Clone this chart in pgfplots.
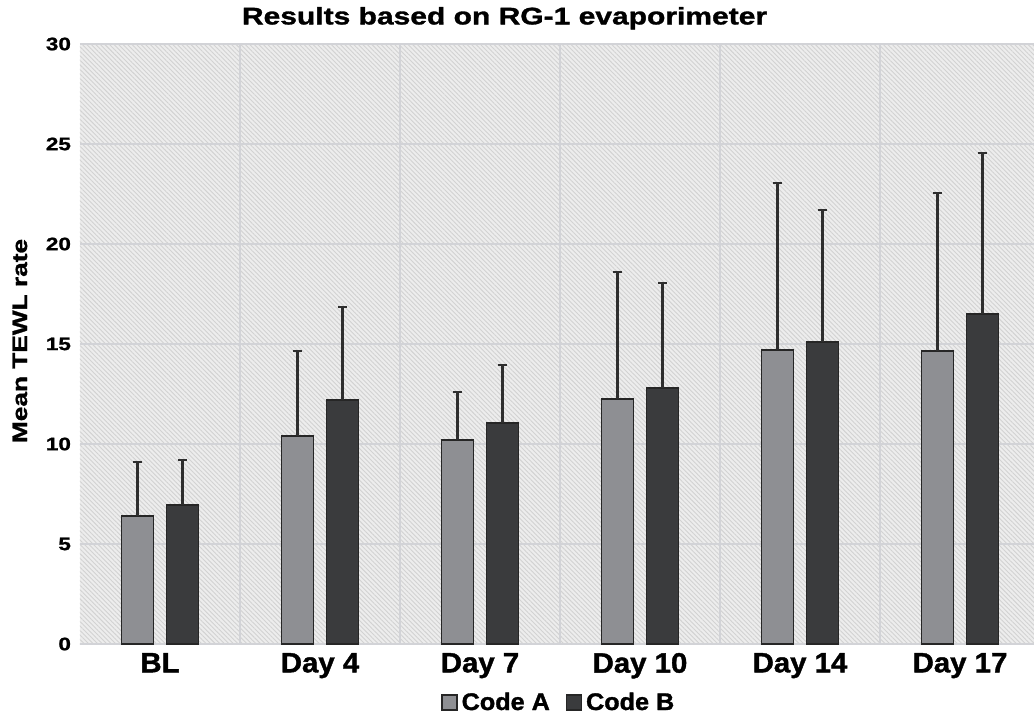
\documentclass[border=0pt]{standalone}
\usepackage{fontspec}
\setmainfont{Liberation Sans}[BoldFeatures={FakeBold=1.2}]
\newfontfamily\wideblk{Liberation Sans}[BoldFeatures={FakeBold=1.3,FakeStretch=1.25}]
\newfontfamily\tickblk{Liberation Sans}[BoldFeatures={FakeBold=1.4,FakeStretch=1.05}]
\usepackage{pgfplots}
\pgfplotsset{compat=1.18}
\usetikzlibrary{patterns.meta}
\definecolor{colA}{HTML}{8E8F93}
\definecolor{colB}{HTML}{3A3B3D}
\definecolor{gridc}{HTML}{D2D3D7}
\definecolor{bgc}{HTML}{EDEDED}
\definecolor{hatch}{HTML}{D2D2D2}
\definecolor{errc}{HTML}{2E2E2E}
\begin{document}
\begin{tikzpicture}
\useasboundingbox (-40pt,-37pt) rectangle (477pt,322pt);
\begin{axis}[
  at={(0pt,0pt)}, anchor=south west,
  scale only axis, width=477pt, height=300pt,
  ybar=6.5pt, bar width=16pt,
  xmin=-0.5, xmax=5.4625, ymin=0, ymax=30,
  xtick={0,1,2,3,4,5},
  xticklabels={BL,Day 4,Day 7,Day 10,Day 14,Day 17},
  minor xtick={0.5,1.5,2.5,3.5,4.5},
  ytick={0,5,10,15,20,25,30},
  major tick length=0pt, minor tick length=0pt,
  ymajorgrids, xminorgrids,
  major grid style={gridc, line width=0.9pt},
  minor grid style={gridc, line width=0.9pt},
  axis line style={draw=none},
  axis background/.style={preaction={fill=bgc}, pattern={Lines[angle=-45,distance=1.6pt,line width=0.45pt]}, pattern color=hatch},
  /pgf/number format/assume math mode=true,
  yticklabel style={font=\wideblk\bfseries\fontsize{9}{10}\selectfont, xshift=-1pt},
  xticklabel style={font=\tickblk\bfseries\fontsize{14}{16}\selectfont, yshift=-1pt},
  ylabel={Mean TEWL rate},
  every axis y label/.style={at={(axis description cs:-0.063,0.505)}, rotate=90, anchor=center, font=\wideblk\bfseries\fontsize{10.5}{12}\selectfont},
  title={Results based on RG-1 evaporimeter},
  title style={font=\wideblk\bfseries\fontsize{12}{14}\selectfont, at={(axis description cs:0.445,1.023)}, anchor=center},
  legend style={at={(axis description cs:0.503,-0.098)}, anchor=center, draw=none, fill=none, font=\tickblk\bfseries\fontsize{12}{14}\selectfont, /tikz/every even column/.append style={column sep=6pt}},
  legend columns=2,
  legend image code/.code={\draw[#1, draw=black!85, line width=0.6pt] (0pt,-3.6pt) rectangle (7.5pt,3.9pt);},
  error bars/y dir=plus, error bars/y explicit,
  error bars/error bar style={errc, line width=1.1pt},
  error bars/error mark options={errc, line width=1.2pt, mark size=2.3pt, rotate=90},
]
\addplot[fill=colA, draw=black!85, line width=0.8pt] coordinates {
  (0,6.4) +- (0,2.7)
  (1,10.4) +- (0,4.25)
  (2,10.2) +- (0,2.4)
  (3,12.25) +- (0,6.35)
  (4,14.7) +- (0,8.35)
  (5,14.65) +- (0,7.9)
};
\addplot[fill=colB, draw=black!85, line width=0.8pt] coordinates {
  (0,6.95) +- (0,2.25)
  (1,12.2) +- (0,4.65)
  (2,11.05) +- (0,2.9)
  (3,12.8) +- (0,5.25)
  (4,15.1) +- (0,6.6)
  (5,16.5) +- (0,8.05)
};
\legend{Code A, Code B}
\end{axis}
\end{tikzpicture}
\end{document}
